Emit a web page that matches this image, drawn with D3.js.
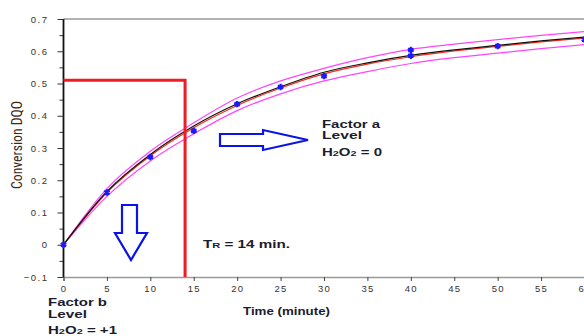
<!DOCTYPE html>
<html>
<head>
<meta charset="utf-8">
<script src="https://cdn.jsdelivr.net/npm/d3@7"></script>
<style>
  body { margin: 0; background: #fff; }
  svg { display: block; }
</style>
</head>
<body>
<svg id="chart" width="584" height="336"></svg>
<script>
// values
var curveT     = [0, 5, 10, 15, 20, 25, 30, 35, 40, 45, 50, 55, 60];
var fitBlack   = [0, 0.165, 0.280, 0.368, 0.437, 0.490, 0.535, 0.564, 0.587, 0.604, 0.618, 0.632, 0.644];
var fitRed     = [0, 0.162, 0.276, 0.363, 0.432, 0.486, 0.530, 0.560, 0.583, 0.601, 0.615, 0.629, 0.641];
var bandUpper  = [0, 0.174, 0.290, 0.378, 0.455, 0.508, 0.547, 0.580, 0.606, 0.622, 0.636, 0.649, 0.661];
var bandLower  = [0, 0.150, 0.260, 0.344, 0.416, 0.468, 0.508, 0.537, 0.562, 0.580, 0.594, 0.608, 0.621];
var pointT     = [0, 5, 10, 15, 20, 25, 30, 40, 40, 50, 60];
var pointY     = [0, 0.162, 0.272, 0.353, 0.436, 0.489, 0.523, 0.604, 0.586, 0.616, 0.636];
var xTicks     = [0, 5, 10, 15, 20, 25, 30, 35, 40, 45, 50, 55, 60];
var yTicks     = [-0.1, 0, 0.1, 0.2, 0.3, 0.4, 0.5, 0.6, 0.7];
var retention  = [14, 0.51];   // TR = 14 min. marker

var svg = d3.select('#chart');

var x = d3.scaleLinear().domain([0, 60]).range([63.5, 584.5]);
var y = d3.scaleLinear().domain([-0.1, 0.7]).range([277, 19]);

var labelFont = '"Liberation Sans", Arial, sans-serif';

// top border line
svg.append('line')
  .attr('x1', x(0)).attr('x2', 584)
  .attr('y1', y(0.7)).attr('y2', y(0.7))
  .attr('stroke', '#9a9a9a').attr('stroke-width', 1.5);

// x axis
var xAxis = svg.append('g')
  .attr('transform', 'translate(0,' + y(-0.1) + ')')
  .call(d3.axisBottom(x).tickValues(xTicks).tickSize(4).tickPadding(4).tickFormat(d3.format('d')));
xAxis.select('.domain').attr('stroke', '#9a9a9a').attr('stroke-width', 1.5);
xAxis.selectAll('.tick line').attr('stroke', '#444');
xAxis.selectAll('text')
  .attr('font-family', labelFont).attr('font-size', 9.5).attr('fill', '#333')
  .attr('letter-spacing', 1.2);

// y axis with minor ticks
var yMinor = svg.append('g')
  .attr('transform', 'translate(' + x(0) + ',0)')
  .call(d3.axisLeft(y).tickValues(d3.range(-0.05, 0.7, 0.1)).tickSize(4).tickFormat(''));
yMinor.select('.domain').remove();
yMinor.selectAll('.tick line').attr('stroke', '#333');

var yAxis = svg.append('g')
  .attr('transform', 'translate(' + x(0) + ',0)')
  .call(d3.axisLeft(y).tickValues(yTicks).tickSize(6).tickPadding(9)
    .tickFormat(function(d){ return Math.abs(d) < 1e-9 ? '0' : d3.format('.1f')(d); }));
yAxis.select('.domain').attr('stroke', '#111').attr('stroke-width', 1.8).attr('d', 'M0,' + y(0.7) + 'V' + y(-0.1));
yAxis.selectAll('.tick line').attr('stroke', '#333');
yAxis.selectAll('text')
  .attr('font-family', labelFont).attr('font-size', 9.5).attr('fill', '#333')
  .attr('letter-spacing', 1.5);

// axis titles
svg.append('text')
  .attr('transform', 'translate(22,145) rotate(-90)')
  .attr('text-anchor', 'middle')
  .attr('font-family', '"Liberation Sans Narrow", "Arial Narrow", "Roboto Condensed", sans-serif')
  .attr('font-size', 14).attr('fill', '#3a2814')
  .attr('textLength', 88).attr('lengthAdjust', 'spacingAndGlyphs')
  .text('Conversion DQO');

svg.append('text')
  .attr('x', 243).attr('y', 315)
  .attr('font-family', labelFont).attr('font-size', 11).attr('font-weight', 'bold').attr('fill', '#1c1c2c')
  .attr('textLength', 87).attr('lengthAdjust', 'spacingAndGlyphs')
  .text('Time (minute)');

// curves
function lineOf(values){
  return d3.line()
    .x(function(d, i){ return x(curveT[i]); })
    .y(function(d){ return y(d); })
    .curve(d3.curveMonotoneX)(values);
}

svg.append('path').attr('d', lineOf(bandUpper)).attr('fill', 'none').attr('stroke', '#ff44ff').attr('stroke-width', 1.2);
svg.append('path').attr('d', lineOf(bandLower)).attr('fill', 'none').attr('stroke', '#ff44ff').attr('stroke-width', 1.2);
svg.append('path').attr('d', lineOf(fitRed)).attr('fill', 'none').attr('stroke', '#ff2a1a').attr('stroke-width', 1.2);
svg.append('path').attr('d', lineOf(fitBlack)).attr('fill', 'none').attr('stroke', '#111').attr('stroke-width', 1.2);

// retention time marker (red box)
svg.append('path')
  .attr('d', 'M' + x(0) + ',' + y(retention[1]) + 'H' + x(retention[0]) + 'V' + y(-0.1))
  .attr('fill', 'none').attr('stroke', '#ee1c24').attr('stroke-width', 3);

// data points
svg.selectAll('.pt')
  .data(pointT)
  .enter()
  .append('path')
  .attr('class', 'pt')
  .attr('transform', function(d, i){ return 'translate(' + x(d) + ',' + y(pointY[i]) + ')'; })
  .attr('d', d3.symbol().type(d3.symbolAsterisk).size(28))
  .attr('fill', 'none').attr('stroke', '#1a1aff').attr('stroke-width', 2.2);

// blue outline arrows
svg.append('path')
  .attr('d', 'M220,134 H263 V130 L308,140 L263,150 V146 H220 Z')
  .attr('fill', 'none').attr('stroke', '#0a14e6').attr('stroke-width', 2.2).attr('stroke-linejoin', 'miter');

svg.append('path')
  .attr('d', 'M122,205 H137 V233 H147 L131,260 L115,233 H122 Z')
  .attr('fill', 'none').attr('stroke', '#0a14e6').attr('stroke-width', 2.2).attr('stroke-linejoin', 'miter');

// annotation texts, stretched wide like the original
function note(xp, yp, len, parts){
  var t = svg.append('text')
    .attr('x', xp).attr('y', yp)
    .attr('font-family', labelFont).attr('font-weight', 'bold').attr('font-size', 11)
    .attr('fill', '#1c1c2c')
    .attr('textLength', len).attr('lengthAdjust', 'spacingAndGlyphs');
  parts.forEach(function(p){
    t.append('tspan').attr('font-size', p[1]).text(p[0]);
  });
}

note(322, 128, 58, [['Factor a', 11]]);
note(322, 139, 40, [['Level', 11]]);
note(322, 156, 60, [['H', 11], ['2', 8], ['O', 11], ['2', 8], [' = 0', 11]]);

note(203, 248, 87, [['T', 11], ['R', 8], [' = 14 min.', 11]]);

note(48, 306, 59, [['Factor b', 11]]);
note(48, 318, 39, [['Level', 11]]);
note(48, 334, 69, [['H', 11], ['2', 8], ['O', 11], ['2', 8], [' = +1', 11]]);
</script>
</body>
</html>
